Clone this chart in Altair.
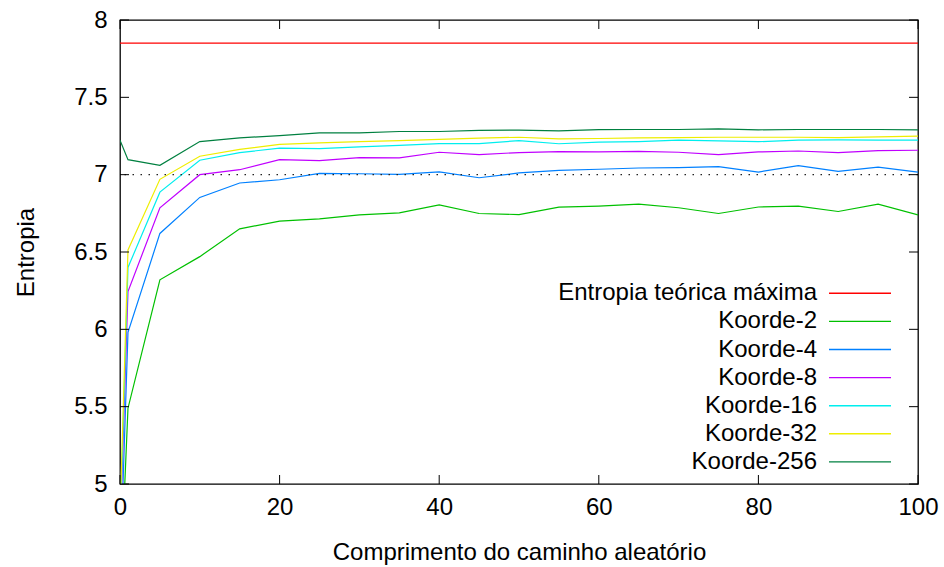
import altair as alt
import pandas as pd

# Random-walk length (x) and measured entropy per Koorde degree
walk_length = [0, 1, 5, 10, 15, 20, 25, 30, 35, 40, 45, 50, 55, 60, 65, 70, 75, 80, 85, 90, 95, 100]

koorde_2 = [4.27, 5.49, 6.32, 6.47, 6.65, 6.70, 6.714, 6.74, 6.753, 6.804, 6.749, 6.742, 6.79, 6.797,
            6.809, 6.786, 6.749, 6.791, 6.796, 6.762, 6.809, 6.74]
koorde_4 = [4.41, 5.98, 6.62, 6.853, 6.946, 6.967, 7.008, 7.006, 7.002, 7.018, 6.98, 7.011, 7.028, 7.035,
            7.043, 7.045, 7.052, 7.017, 7.058, 7.021, 7.049, 7.017]
koorde_8 = [4.67, 6.244, 6.786, 7.0, 7.032, 7.097, 7.091, 7.11, 7.108, 7.145, 7.13, 7.143, 7.149, 7.147,
            7.151, 7.145, 7.13, 7.147, 7.153, 7.143, 7.156, 7.158]
koorde_16 = [4.71, 6.40, 6.887, 7.093, 7.143, 7.171, 7.169, 7.18, 7.19, 7.201, 7.201, 7.22, 7.20, 7.21,
             7.214, 7.223, 7.218, 7.213, 7.223, 7.225, 7.223, 7.223]
koorde_32 = [4.79, 6.513, 6.97, 7.119, 7.164, 7.196, 7.205, 7.214, 7.22, 7.228, 7.236, 7.242, 7.231, 7.234,
             7.238, 7.24, 7.242, 7.242, 7.242, 7.24, 7.244, 7.249]
koorde_256 = [7.223, 7.097, 7.06, 7.214, 7.238, 7.252, 7.27, 7.27, 7.279, 7.279, 7.286, 7.288, 7.283, 7.291,
              7.292, 7.292, 7.296, 7.29, 7.292, 7.292, 7.292, 7.29]

max_entropy = 7.85
reference_level = 7.0

max_label = "Entropia teórica máxima"
series_names = ["Koorde-2", "Koorde-4", "Koorde-8", "Koorde-16", "Koorde-32", "Koorde-256"]
series_values = [koorde_2, koorde_4, koorde_8, koorde_16, koorde_32, koorde_256]
legend_labels = [max_label] + series_names
legend_colors = ["#ff0000", "#00c000", "#0080ff", "#c000ff", "#00eeee", "#eeee00", "#008040"]

y_ticks = [5, 5.5, 6, 6.5, 7, 7.5, 8]
x_ticks = [0, 20, 40, 60, 80, 100]

W, H = 798, 464
FONT = "Liberation Sans"
FS = 24
TICK = 9
LW = 1.2

rows = []
for name, vals in zip(series_names, series_values):
    for x, v in zip(walk_length, vals):
        rows.append({"x": x, "value": v, "series": name})
df = pd.DataFrame(rows)

x_scale = alt.Scale(domain=[0, 100], nice=False, zero=False)
y_scale = alt.Scale(domain=[5, 8], nice=False, zero=False)
color_scale = alt.Scale(domain=legend_labels, range=legend_colors)

axis_style = dict(
    ticks=False, domain=False, grid=False, labelFlush=False, labelOverlap=False,
    labelFont=FONT, labelFontSize=FS, labelColor="black",
    titleFont=FONT, titleFontSize=FS, titleFontWeight="normal", titleColor="black",
)

lines = alt.Chart(df).mark_line(strokeWidth=LW, clip=True).encode(
    x=alt.X("x:Q", scale=x_scale,
            axis=alt.Axis(values=x_ticks, title="Comprimento do caminho aleatório",
                          labelPadding=11, titlePadding=21, **axis_style)),
    y=alt.Y("value:Q", scale=y_scale,
            axis=alt.Axis(values=y_ticks, format="~g", title="Entropia",
                          labelPadding=13, titlePadding=35, **axis_style)),
    color=alt.Color("series:N", scale=color_scale, legend=None),
)

max_line = alt.Chart(pd.DataFrame({"v": [max_entropy], "label": [max_label]})).mark_rule(
    strokeWidth=LW
).encode(
    y=alt.Y("v:Q", scale=y_scale),
    color=alt.Color("label:N", scale=color_scale, legend=None),
)

ref_line = alt.Chart(pd.DataFrame({"v": [reference_level]})).mark_rule(
    color="#222222", strokeWidth=1.3, strokeDash=[1.5, 6.5]
).encode(y=alt.Y("v:Q", scale=y_scale))

# Inward tick marks on all four sides
y_tick_df = pd.DataFrame({"t": y_ticks})
x_tick_df = pd.DataFrame({"t": x_ticks})
tick_left = alt.Chart(y_tick_df).mark_rule(color="black", strokeWidth=1).encode(
    y=alt.Y("t:Q", scale=y_scale), x=alt.value(0), x2=alt.value(TICK))
tick_right = alt.Chart(y_tick_df).mark_rule(color="black", strokeWidth=1).encode(
    y=alt.Y("t:Q", scale=y_scale), x=alt.value(W - TICK), x2=alt.value(W))
tick_bottom = alt.Chart(x_tick_df).mark_rule(color="black", strokeWidth=1).encode(
    x=alt.X("t:Q", scale=x_scale), y=alt.value(H), y2=alt.value(H - TICK))
tick_top = alt.Chart(x_tick_df).mark_rule(color="black", strokeWidth=1).encode(
    x=alt.X("t:Q", scale=x_scale), y=alt.value(0), y2=alt.value(TICK))

# Key: labels right-aligned with the line sample to their right, one row per entry
legend_df = pd.DataFrame({"label": legend_labels, "row": list(range(len(legend_labels)))})
legend_base = alt.Chart(legend_df).transform_calculate(ly="273.3 + 28.1 * datum.row")
legend_y = alt.Y("ly:Q", scale=None, axis=None)
legend_text = legend_base.mark_text(
    align="right", baseline="middle", font=FONT, fontSize=FS, color="black"
).encode(x=alt.value(697), y=legend_y, text="label:N")
legend_swatch = legend_base.mark_rule(strokeWidth=1.4).encode(
    x=alt.value(709), x2=alt.value(771), y=legend_y,
    color=alt.Color("label:N", scale=color_scale, legend=None),
)

chart = alt.layer(
    lines, ref_line, max_line, tick_left, tick_right, tick_bottom, tick_top,
    legend_text, legend_swatch,
).properties(
    width=W, height=H,
    autosize=alt.AutoSizeParams(type="none"),
    padding={"left": 120, "top": 20, "right": 26, "bottom": 83},
    background="white",
).configure_view(
    stroke="black", strokeWidth=1.3
)

chart.save("out.html", embed_options={"renderer": "svg", "actions": False})
